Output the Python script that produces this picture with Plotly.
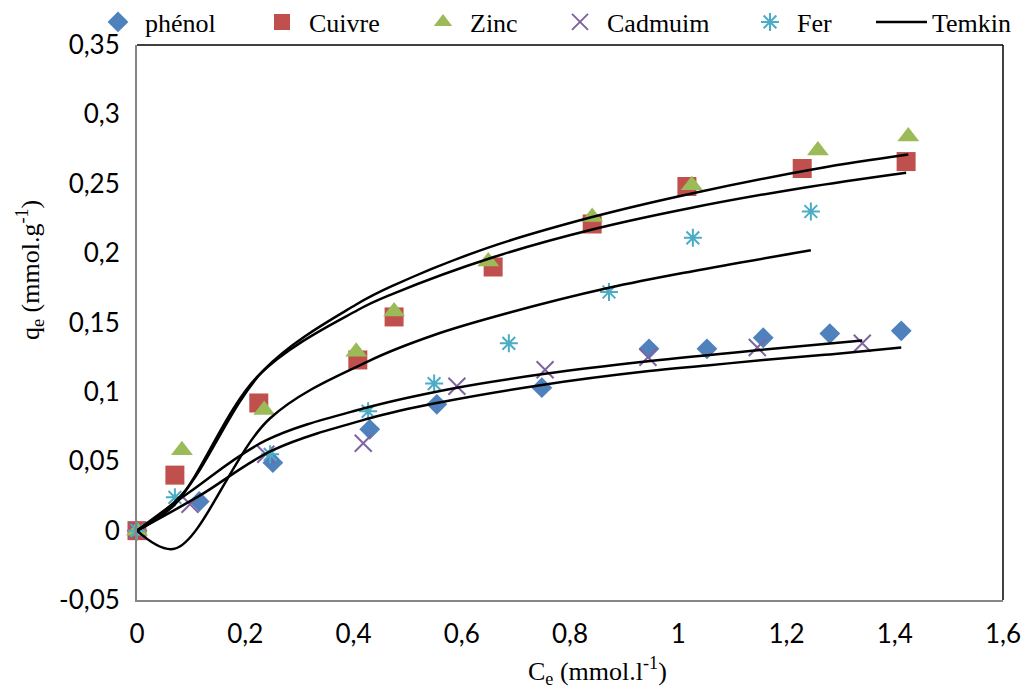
import plotly.graph_objects as go

# Equilibrium concentration Ce (mmol/l) and uptake qe (mmol/g)
phenol_ce = [0, 0.115, 0.251, 0.43, 0.554, 0.748, 0.946, 1.053, 1.157, 1.28, 1.412]
phenol_qe = [0, 0.021, 0.049, 0.073, 0.091, 0.103, 0.131, 0.131, 0.139, 0.142, 0.144]

cuivre_ce = [0, 0.070, 0.225, 0.408, 0.475, 0.658, 0.841, 1.016, 1.229, 1.421]
cuivre_qe = [0, 0.040, 0.092, 0.123, 0.154, 0.190, 0.221, 0.248, 0.261, 0.266]

zinc_ce = [0, 0.083, 0.235, 0.405, 0.475, 0.649, 0.841, 1.025, 1.258, 1.425]
zinc_qe = [0, 0.058, 0.087, 0.129, 0.158, 0.194, 0.226, 0.249, 0.274, 0.284]

cadmium_ce = [0, 0.098, 0.238, 0.418, 0.591, 0.754, 0.944, 1.146, 1.340]
cadmium_qe = [0, 0.019, 0.055, 0.063, 0.104, 0.116, 0.125, 0.132, 0.135]

fer_ce = [0, 0.070, 0.246, 0.427, 0.549, 0.687, 0.872, 1.027, 1.245]
fer_qe = [0, 0.024, 0.055, 0.086, 0.106, 0.135, 0.172, 0.211, 0.230]

# Temkin model values at the same Ce points
temkin_phenol = [0, 0.025, 0.058, 0.081, 0.092, 0.105, 0.115, 0.119, 0.123, 0.127, 0.132]
temkin_cuivre = [0, 0.019, 0.112, 0.159, 0.171, 0.197, 0.217, 0.232, 0.247, 0.258]
temkin_zinc = [0, 0.026, 0.116, 0.163, 0.177, 0.204, 0.226, 0.243, 0.261, 0.271]
temkin_cadmium = [0, 0.028, 0.065, 0.088, 0.103, 0.113, 0.122, 0.130, 0.137]
temkin_fer = [0, -0.013, 0.081, 0.122, 0.141, 0.157, 0.175, 0.187, 0.202]

x_ticks = [0, 0.2, 0.4, 0.6, 0.8, 1.0, 1.2, 1.4, 1.6]
x_tick_text = ["0", "0,2", "0,4", "0,6", "0,8", "1", "1,2", "1,4", "1,6"]
y_ticks = [-0.05, 0, 0.05, 0.1, 0.15, 0.2, 0.25, 0.3, 0.35]
y_tick_text = ["-0,05", "0", "0,05", "0,1", "0,15", "0,2", "0,25", "0,3", "0,35"]

SERIF = "Liberation Serif, Times New Roman, serif"
SANS = "Lato, Calibri, sans-serif"
W, H = 1023, 691

fig = go.Figure()

series = [
    ("phénol", phenol_ce, phenol_qe, dict(symbol="diamond", size=16, color="#4F81BD"), "legend"),
    ("Cuivre", cuivre_ce, cuivre_qe, dict(symbol="square", size=19, color="#C0504D"), "legend2"),
    ("Zinc", zinc_ce, zinc_qe, dict(symbol="triangle-up", size=19, color="#9BBB59"), "legend3"),
    ("Cadmuim", cadmium_ce, cadmium_qe,
     dict(symbol="x-thin", size=17, color="#8064A2", line=dict(color="#8064A2", width=2)), "legend4"),
    ("Fer", fer_ce, fer_qe,
     dict(symbol="asterisk-open", size=15, color="#4BACC6", line=dict(color="#4BACC6", width=2)), "legend5"),
]
for name, xs, ys, marker, leg in series:
    fig.add_trace(go.Scatter(x=xs, y=ys, mode="markers", name=name, marker=marker,
                             legend=leg, cliponaxis=False))

fits = [
    (phenol_ce, temkin_phenol),
    (cuivre_ce, temkin_cuivre),
    (zinc_ce, temkin_zinc),
    (cadmium_ce, temkin_cadmium),
    (fer_ce, temkin_fer),
]
for i, (xs, ys) in enumerate(fits):
    fig.add_trace(go.Scatter(x=xs, y=ys, mode="lines", name="Temkin",
                             line=dict(color="black", width=2.5, shape="spline", smoothing=1),
                             legend="legend6", legendgroup="temkin", showlegend=(i == 0)))

# legend entries are placed against the whole page
leg_common = dict(orientation="h", xref="container", yref="container",
                  yanchor="middle", y=1 - 22 / H, xanchor="left",
                  bgcolor="rgba(0,0,0,0)", font=dict(family=SERIF, size=26, color="black"),
                  itemwidth=44)
sym_centres = [118, 282, 443, 580, 770]
layout_legends = {}
for k, c in enumerate(sym_centres):
    key = "legend" if k == 0 else f"legend{k + 1}"
    layout_legends[key] = dict(leg_common, x=(c - 27) / W)
layout_legends["legend6"] = dict(leg_common, x=871 / W, itemwidth=51)

fig.update_layout(
    width=W, height=H,
    margin=dict(l=137, r=20, t=45, b=91, autoexpand=False),
    paper_bgcolor="white", plot_bgcolor="white",
    showlegend=True,
    xaxis=dict(range=[0, 1.6], tickvals=x_ticks, ticktext=x_tick_text,
               showgrid=False, zeroline=False, showline=True, linecolor="#868686", linewidth=2,
               ticks="", ticklabelstandoff=10,
               tickfont=dict(family=SANS, size=26, color="black")),
    yaxis=dict(range=[-0.05, 0.35], tickvals=y_ticks, ticktext=y_tick_text,
               showgrid=False, zeroline=False, showline=True, linecolor="#868686", linewidth=2,
               ticks="", ticklabelstandoff=10,
               tickfont=dict(family=SANS, size=26, color="black")),
    annotations=[
        dict(text="q<sub>e</sub> (mmol.g<sup>-1</sup>)", textangle=-90,
             xref="paper", yref="paper", x=(30 - 137) / 866.0, y=(600 - 270) / 555.0,
             xanchor="center", yanchor="middle", showarrow=False,
             font=dict(family=SERIF, size=26, color="black")),
        dict(text="C<sub>e</sub> (mmol.l<sup>-1</sup>)",
             xref="paper", yref="paper", x=(597 - 137) / 866.0, y=-(671 - 600) / 555.0,
             xanchor="center", yanchor="middle", showarrow=False,
             font=dict(family=SERIF, size=26, color="black")),
    ],
    shapes=[
        dict(type="line", xref="paper", yref="paper", x0=0, x1=1, y0=1, y1=1,
             line=dict(color="black", width=1.5)),
        dict(type="line", xref="paper", yref="paper", x0=1, x1=1, y0=0, y1=1,
             line=dict(color="black", width=1.5)),
    ],
    **layout_legends,
)

fig.write_html("out.html")
